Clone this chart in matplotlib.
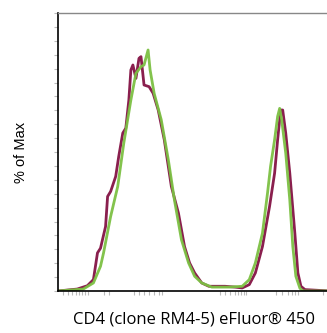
import matplotlib
matplotlib.use("Agg")
import matplotlib.pyplot as plt
import numpy as np

# Channel position (arbitrary units, 0..269) and % of Max
purple_x = [0, 19, 29, 35, 39, 42, 47, 49, 52, 57, 60, 64, 67, 70, 72, 74, 77, 80, 82, 85, 90, 94, 99,
            105, 112, 119, 125, 130, 135, 142, 149, 159, 165, 175, 182, 189, 195, 202, 209, 214, 217,
            220, 222, 225, 229, 234, 237, 240, 244, 269]
purple_y = [0, 0.7, 1.9, 4.1, 13.7, 15.4, 23.2, 34.0, 35.8, 41.2, 48.4, 56.8, 58.6, 68.7, 79.5, 81.3,
            76.5, 83.7, 84.3, 74.1, 73.5, 71.1, 65.1, 54.4, 37.6, 28.0, 16.0, 10.1, 6.5, 2.9, 1.7, 1.7,
            1.7, 1.4, 1.1, 2.3, 6.5, 16.0, 30.4, 42.4, 54.4, 65.1, 65.1, 56.8, 42.4, 20.8, 6.5, 1.7, 0.5, 0]

green_x = [0, 25, 35, 42, 45, 52, 59, 65, 72, 77, 82, 85, 89, 91, 95, 102, 109, 115, 122, 129, 135,
           142, 152, 169, 182, 189, 195, 202, 207, 210, 214, 217, 219, 221, 225, 229, 232, 235, 239,
           242, 269]
green_y = [0, 0.7, 2.9, 8.9, 13.7, 26.8, 37.6, 53.2, 68.7, 78.3, 80.7, 81.3, 86.7, 79.5, 71.1, 61.6,
           47.2, 32.8, 18.4, 10.1, 5.3, 2.9, 1.4, 1.4, 1.7, 4.1, 10.1, 20.8, 35.2, 44.8, 54.4, 62.8,
           65.7, 61.6, 49.6, 32.8, 16.0, 5.3, 1.0, 0, 0]

fig = plt.figure(figsize=(3.27, 3.33), dpi=100)
ax = fig.add_axes([58/327, 42/333, 1 - 58/327 + 0.01, 278/333])

ax.plot(purple_x, purple_y, color="#8a1f4e", lw=2.0, solid_joinstyle="round")
ax.plot(green_x, green_y, color="#7cc043", lw=2.0, alpha=0.95, solid_joinstyle="round")

ax.set_xlim(0, 269)
ax.set_ylim(0, 100)

ax.spines["right"].set_visible(False)
ax.spines["top"].set_color("#888888")
ax.spines["top"].set_linewidth(1.0)
ax.spines["left"].set_color("black")
ax.spines["bottom"].set_color("black")
ax.spines["left"].set_linewidth(1.2)
ax.spines["bottom"].set_linewidth(1.2)

ax.set_yticks(np.arange(0, 101, 5))
ax.set_yticklabels([])
ax.tick_params(axis="y", direction="out", length=3, color="#bbbbbb", width=0.8)
ax.set_xticks([5, 10, 14, 18, 21, 24, 27, 30, 45, 50, 75, 80, 85, 90, 95, 100, 103,
               160, 165, 170, 175, 178, 181, 184, 186, 215, 221, 227, 231, 234, 237, 262])
ax.set_xticklabels([])
ax.tick_params(axis="x", direction="out", length=3, color="#bbbbbb", width=0.8)

ax.set_ylabel("% of Max", fontsize=10.5, family="Liberation Sans", labelpad=15)
ax.set_xlabel("CD4 (clone RM4-5) eFluor® 450", fontsize=12, family="Open Sans", labelpad=8)

fig.savefig("out.png", dpi=100)
